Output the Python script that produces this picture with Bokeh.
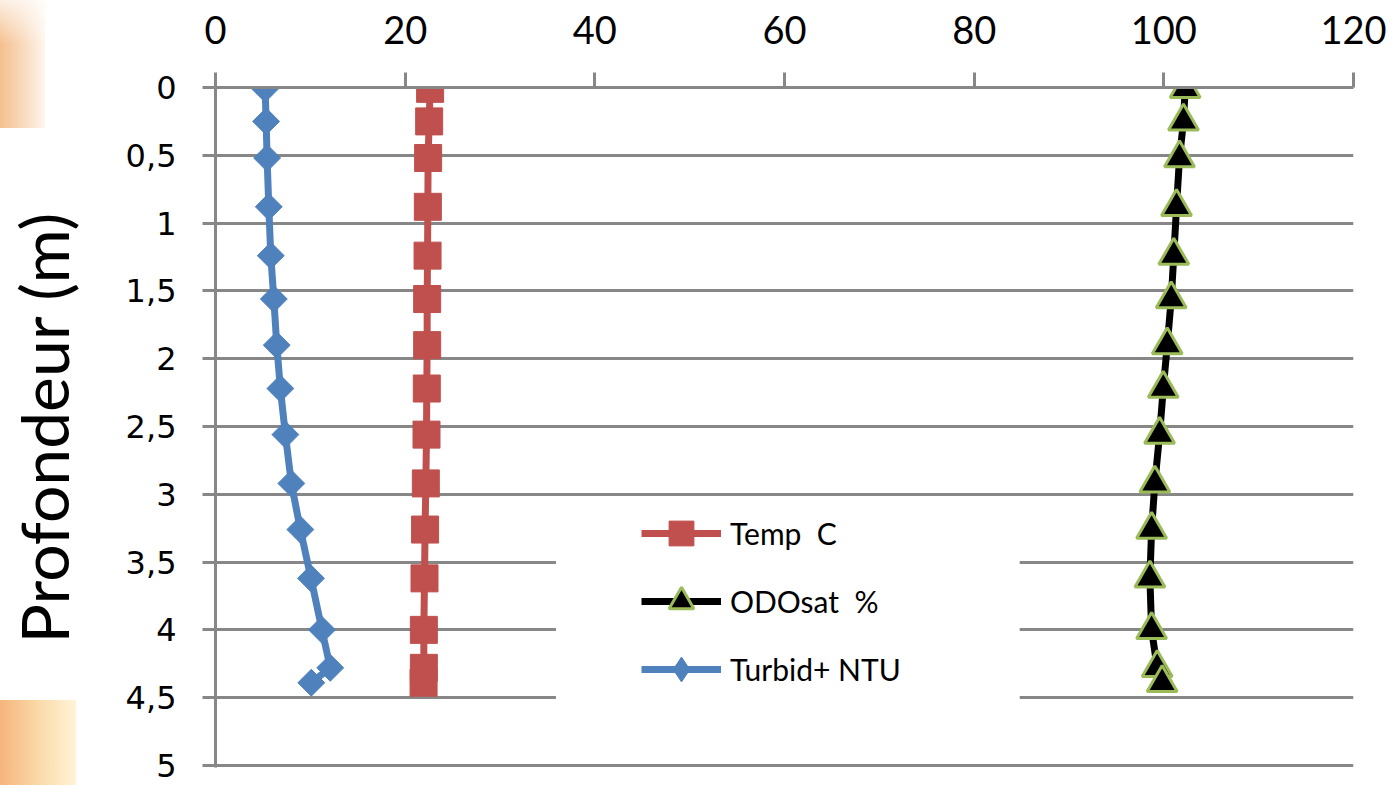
import numpy as np
from bokeh.plotting import figure
from bokeh.models import Range1d, Legend, LegendItem, FixedTicker, BoxAnnotation
from bokeh.embed import file_html
from bokeh.resources import INLINE

# ---- data ----
depth = [0.01, 0.25, 0.52, 0.88, 1.24, 1.56, 1.90, 2.22, 2.56, 2.92, 3.26, 3.62, 4.00, 4.28, 4.39]
temp_c = [22.63, 22.53, 22.42, 22.39, 22.36, 22.32, 22.32, 22.28, 22.25, 22.18, 22.10, 22.04, 21.97, 21.97, 21.94]
odosat = [102.25, 102.07, 101.65, 101.34, 101.05, 100.78, 100.36, 99.94, 99.55, 99.05, 98.71, 98.53, 98.71, 99.30, 99.82]
turbid = [5.23, 5.34, 5.44, 5.62, 5.83, 6.15, 6.46, 6.84, 7.37, 8.00, 8.95, 10.07, 11.23, 12.10, 10.10]

x_ticks = [0, 20, 40, 60, 80, 100, 120]
y_ticks = [0, 0.5, 1, 1.5, 2, 2.5, 3, 3.5, 4, 4.5, 5]
y_tick_labels = ["0", "0,5", "1", "1,5", "2", "2,5", "3", "3,5", "4", "4,5", "5"]
series_names = ["Temp  C", "ODOsat  %", "Turbid+ NTU"]

GRID = "#878787"
FONT = "Lato"

p = figure(width=1395, height=785, output_backend="svg", toolbar_location=None,
           x_range=Range1d(0, 120), y_range=Range1d(5.015, 0),
           x_axis_location="above",
           min_border_left=213, min_border_right=42, min_border_top=87, min_border_bottom=18)
p.outline_line_color = None
p.background_fill_color = "white"
p.border_fill_color = None
# slide decoration (orange glow at the left edge of the slide)
p.styles = {
    "background": ("linear-gradient(to bottom, rgba(255,255,255,0.75) 0%, rgba(255,255,255,0) 35%) 0px 0px / 45px 128px no-repeat, "
                   "linear-gradient(to right, #f5bf8e 0%, #f9dcc0 55%, #fff6ee 100%) 0px 0px / 45px 128px no-repeat, "
                   "linear-gradient(to right, #f4b47c 0%, #fbd9a8 50%, #fff4d8 100%) 0px 700px / 76px 85px no-repeat, "
                   "#ffffff"),
}

# axes
xa = p.xaxis[0]
xa.ticker = FixedTicker(ticks=x_ticks)
xa.axis_line_color = GRID
xa.axis_line_width = 3
xa.major_tick_line_color = GRID
xa.major_tick_line_width = 3
xa.major_tick_out = 15
xa.major_tick_in = 0
xa.minor_tick_line_color = None
xa.major_label_text_font = FONT
xa.major_label_text_font_size = "38px"
xa.major_label_text_color = "black"
xa.major_label_standoff = 29

ya = p.yaxis[0]
ya.ticker = FixedTicker(ticks=y_ticks)
ya.major_label_overrides = {float(t): lab for t, lab in zip(y_ticks, y_tick_labels)}
ya.axis_line_color = GRID
ya.axis_line_width = 3
ya.major_tick_line_color = GRID
ya.major_tick_line_width = 3
ya.major_tick_out = 13
ya.major_tick_in = 0
ya.minor_tick_line_color = None
ya.major_label_text_font = "DejaVu Sans"
ya.major_label_text_font_size = "32px"
ya.major_label_text_color = "black"
ya.major_label_standoff = 26
ya.axis_label = "Profondeur (m)"
ya.axis_label_text_font = FONT
ya.axis_label_text_font_style = "normal"
ya.axis_label_text_font_size = "66px"
ya.axis_label_text_color = "black"
ya.axis_label_standoff = 40

p.xgrid.visible = False
p.ygrid.ticker = FixedTicker(ticks=y_ticks)
p.ygrid.grid_line_color = GRID
p.ygrid.grid_line_width = 3

# series
r_temp_l = p.line(temp_c, depth, line_color="#C0504D", line_width=7)
r_temp_m = p.scatter(temp_c, depth, marker="square", size=27, fill_color="#C0504D",
                     line_color="#C0504D", line_width=1)

r_odo_l = p.line(odosat, depth, line_color="black", line_width=7)
r_odo_m = p.scatter(odosat, depth, marker="triangle", size=30, fill_color="black",
                    line_color="#9BBB59", line_width=3)

r_tur_l = p.line(turbid, depth, line_color="#4F81BD", line_width=7)
# diamond drawn under the rotated squares; it also provides the legend swatch
r_tur_key = p.scatter(turbid, depth, marker="diamond", size=24, fill_color="#4F81BD",
                      line_color="#4F81BD", line_width=1)
r_tur_m = p.scatter(turbid, depth, marker="square", angle=np.pi / 4, size=19,
                    fill_color="#4F81BD", line_color="#4F81BD", line_width=1)

# white panel behind the legend (as in the reference chart)
p.add_layout(BoxAnnotation(left=35.9, right=84.8, top=3.05, bottom=4.56,
                           fill_color="white", fill_alpha=1.0, line_alpha=0))

legend = Legend(items=[
    LegendItem(label=series_names[0], renderers=[r_temp_l, r_temp_m]),
    LegendItem(label=series_names[1], renderers=[r_odo_l, r_odo_m]),
    LegendItem(label=series_names[2], renderers=[r_tur_l, r_tur_key]),
], location=(426, 67))
legend.background_fill_color = "white"
legend.background_fill_alpha = 1.0
legend.border_line_color = None
legend.padding = 4
legend.spacing = 6
legend.glyph_width = 80
legend.glyph_height = 62
legend.label_height = 62
legend.label_standoff = 9
legend.label_width = 283
legend.label_text_font = FONT
legend.label_text_font_size = "30px"
legend.label_text_color = "black"
legend.margin = 0
p.add_layout(legend, "center")

open("out.html", "w").write(file_html(p, INLINE))
